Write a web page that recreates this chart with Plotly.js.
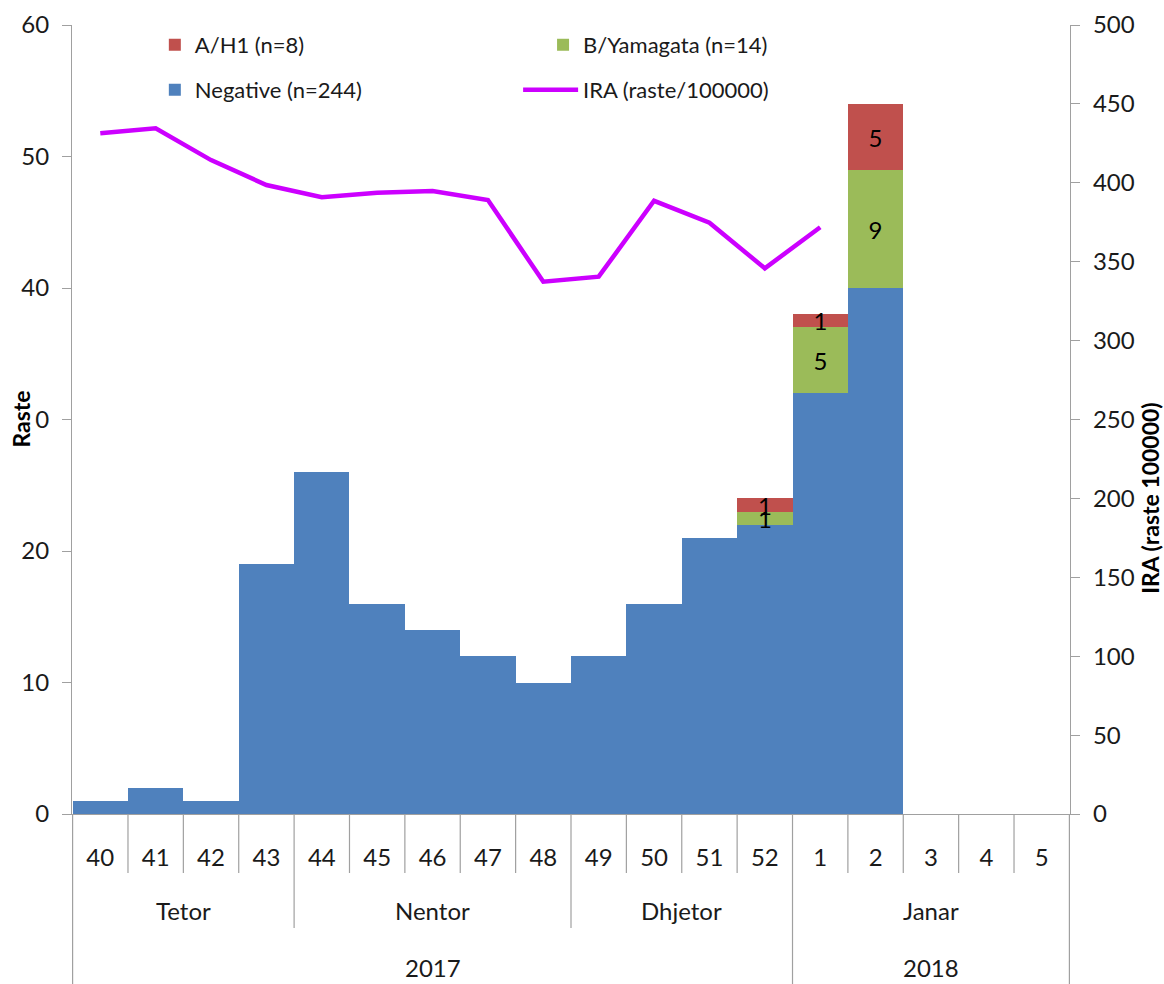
<!DOCTYPE html>
<html>
<head>
<meta charset="utf-8">
<script src="https://cdn.plot.ly/plotly-3.0.1.min.js"></script>
<style>
  html, body { margin: 0; padding: 0; background: #fff; }
  #plot { width: 1164px; height: 984px; }
</style>
</head>
<body>
<div id="plot"></div>
<script>
// week numbers on the x axis, grouped by month and year
var weeks = ['40', '41', '42', '43', '44', '45', '46', '47', '48', '49', '50', '51', '52', '1', '2', '3', '4', '5'];
var months = ['Tetor', 'Nentor', 'Dhjetor', 'Janar'];
var monthSpans = [4, 5, 4, 5];
var years = ['2017', '2018'];
var yearSpans = [13, 5];

// positive / negative samples per week
var negative = [1, 2, 1, 19, 26, 16, 14, 12, 10, 12, 16, 21, 22, 32, 40, 0, 0, 0];
var bYamagata = [0, 0, 0, 0, 0, 0, 0, 0, 0, 0, 0, 0, 1, 5, 9, 0, 0, 0];
var aH1 = [0, 0, 0, 0, 0, 0, 0, 0, 0, 0, 0, 0, 1, 1, 5, 0, 0, 0];

// IRA incidence, weeks 40 .. 1
var ira = [431.4, 434.5, 414.4, 398.6, 390.8, 393.7, 394.8, 389.1, 337.3, 340.5, 388.6, 374.7, 345.8, 371.8];

var FONT = 'Lato, "Open Sans", sans-serif';
var AXIS_GREY = '#a0a0a0';
var TXT = '#1a1a1a';

function labels(vals) {
  return vals.map(function (v) { return v ? String(v) : ''; });
}

function barTrace(name, vals, color, legendId, withText) {
  var t = {
    type: 'bar',
    name: name,
    x: weeks,
    y: vals,
    marker: {color: color},
    legend: legendId,
    hoverinfo: 'x+y+name'
  };
  if (withText) {
    t.text = labels(vals);
    t.textposition = 'inside';
    t.insidetextanchor = 'middle';
    t.textangle = 0;
    t.constraintext = 'none';
    t.textfont = {family: FONT, size: 24, color: '#000'};
  } else {
    t.textposition = 'none';
  }
  return t;
}

var data = [
  barTrace('Negative (n=244)', negative, '#4f81bd', 'legend3', false),
  barTrace('B/Yamagata (n=14)', bYamagata, '#9bbb59', 'legend2', true),
  barTrace('A/H1 (n=8)', aH1, '#c0504d', 'legend', true),
  {
    type: 'scatter',
    mode: 'lines',
    name: 'IRA (raste/100000)',
    x: weeks.slice(0, ira.length),
    y: ira,
    yaxis: 'y2',
    line: {color: '#cc00ff', width: 4.5},
    legend: 'legend4'
  }
];

// divider lines under the axis: week, month and year boundaries
var monthEdges = [0];
monthSpans.forEach(function (s) { monthEdges.push(monthEdges[monthEdges.length - 1] + s); });
var yearEdges = [0];
yearSpans.forEach(function (s) { yearEdges.push(yearEdges[yearEdges.length - 1] + s); });

var shapes = [];
for (var b = 0; b <= weeks.length; b++) {
  var bottom = -0.0748;
  if (monthEdges.indexOf(b) >= 0) bottom = -0.1445;
  if (yearEdges.indexOf(b) >= 0) bottom = -0.2160;
  shapes.push({
    type: 'line', xref: 'x', yref: 'paper',
    x0: b - 0.5, x1: b - 0.5, y0: 0, y1: bottom,
    line: {color: AXIS_GREY, width: 1.2}
  });
}

var annotations = [];
months.forEach(function (m, i) {
  annotations.push({
    text: m, xref: 'x', yref: 'paper',
    x: monthEdges[i] + monthSpans[i] / 2 - 0.5, y: -0.1217,
    showarrow: false, yanchor: 'middle',
    font: {family: FONT, size: 24, color: TXT}
  });
});
years.forEach(function (yr, i) {
  annotations.push({
    text: yr, xref: 'x', yref: 'paper',
    x: yearEdges[i] + yearSpans[i] / 2 - 0.5, y: -0.194,
    showarrow: false, yanchor: 'middle',
    font: {family: FONT, size: 24, color: TXT}
  });
});
annotations.push({
  text: '<b>Raste</b>', xref: 'paper', yref: 'paper',
  x: -0.052, y: 0.5, xanchor: 'center', yanchor: 'middle',
  textangle: -90, showarrow: false,
  bgcolor: '#fff', borderpad: 0,
  font: {family: FONT, size: 23, color: '#000'}
});
annotations.push({
  text: '<b>IRA (raste 100000)</b>', xref: 'paper', yref: 'paper',
  x: 1.080, y: 0.4005, xanchor: 'center', yanchor: 'middle',
  textangle: -90, showarrow: false,
  font: {family: FONT, size: 23, color: '#000'}
});

function legendBox(x, y, itemwidth) {
  return {
    x: x, y: y, xanchor: 'left', yanchor: 'middle',
    bgcolor: 'rgba(0,0,0,0)',
    itemwidth: itemwidth || 30,
    font: {family: FONT, size: 22, color: TXT}
  };
}

var layout = {
  width: 1164,
  height: 984,
  margin: {l: 72, r: 94, t: 25, b: 170},
  paper_bgcolor: '#fff',
  plot_bgcolor: '#fff',
  barmode: 'stack',
  bargap: 0,
  showlegend: true,
  legend: legendBox(0.083, 0.9747),
  legend2: legendBox(0.472, 0.9747),
  legend3: legendBox(0.083, 0.9176),
  legend4: legendBox(0.447, 0.9176, 55),
  xaxis: {
    type: 'category',
    showline: true, linecolor: AXIS_GREY, linewidth: 1.2,
    ticks: '', showgrid: false, zeroline: false,
    ticklabelstandoff: 22,
    tickfont: {family: FONT, size: 24, color: TXT}
  },
  yaxis: {
    range: [0, 60], dtick: 10,
    showline: true, linecolor: AXIS_GREY, linewidth: 1.2,
    ticks: 'outside', ticklen: 9, tickcolor: AXIS_GREY,
    ticklabelstandoff: 8,
    showgrid: false, zeroline: false,
    tickfont: {family: FONT, size: 24, color: TXT}
  },
  yaxis2: {
    range: [0, 500], dtick: 50,
    overlaying: 'y', side: 'right',
    showline: true, linecolor: AXIS_GREY, linewidth: 1.2,
    ticks: 'outside', ticklen: 9, tickcolor: AXIS_GREY,
    ticklabelstandoff: 8,
    showgrid: false, zeroline: false,
    tickfont: {family: FONT, size: 24, color: TXT}
  },
  shapes: shapes,
  annotations: annotations
};

Plotly.newPlot('plot', data, layout, {displayModeBar: false});
</script>
</body>
</html>
